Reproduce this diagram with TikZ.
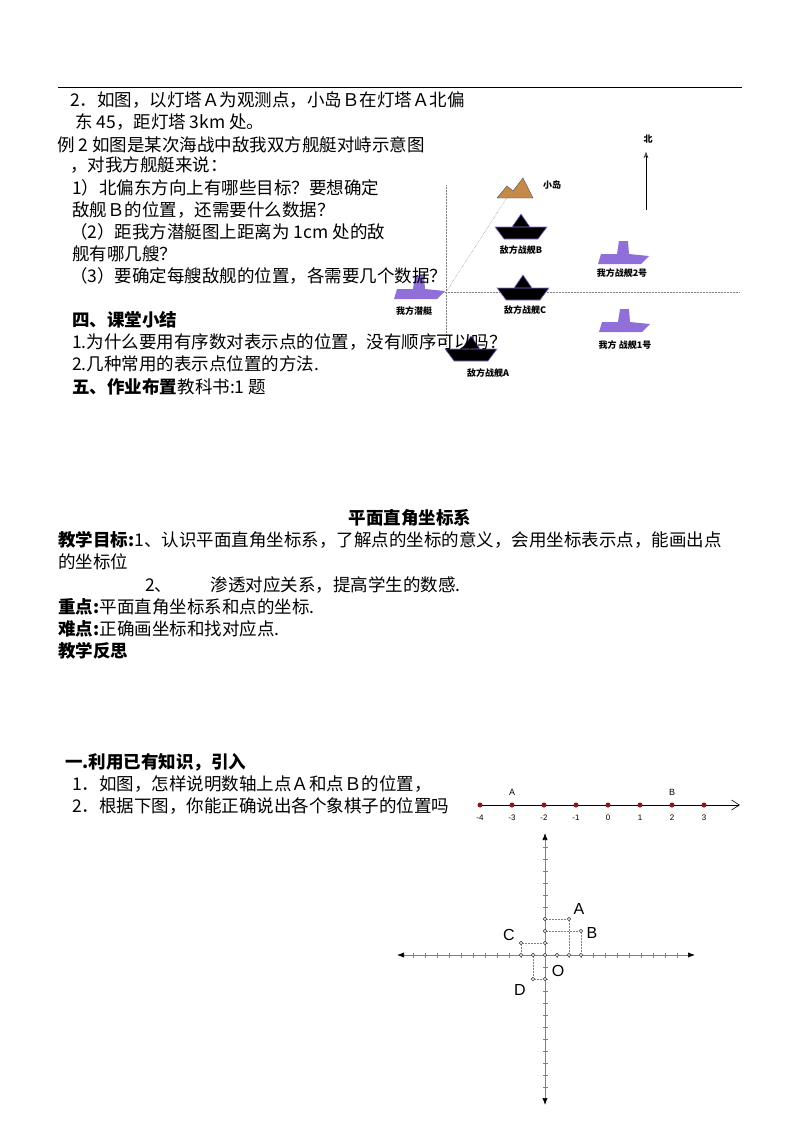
\documentclass[tikz,border=0pt]{standalone}
\usepackage{fontspec}
\setmainfont{Noto Sans CJK SC}
\newfontfamily\latn{Liberation Sans}
\usetikzlibrary{arrows.meta, positioning}
\definecolor{shipviolet}{HTML}{9070D8}
\definecolor{isle}{HTML}{C48A4A}
\definecolor{dotred}{HTML}{8B1A1A}
\tikzset{
  txt/.style={anchor=west, inner sep=0pt, font=\fontsize{17.5}{20}\selectfont},
  bold/.style={txt, font=\fontsize{17.5}{20}\selectfont\bfseries},
  tag/.style={inner sep=1pt, font=\fontsize{9}{10}\selectfont\bfseries},
  foe/.pic={\fill[black, draw=shipviolet, line width=0.6pt] (-26,-2)--(26,-2)--(17,10)--(-17,10)--cycle
      (-9,-2)--(0,-15)--(9,-2)--cycle;},
  own/.pic={\fill[shipviolet] (-25,10)--(-22,0)--(-6,0)--(-4,-13)--(5,-13)--(6,0)--(26,2)--(18,10)--cycle;},
  mount/.pic={\fill[isle, draw=black!70, line width=0.4pt] (-18,10)--(-8,-2)--(-2,3)--(8,-10)--(18,10)--cycle;},
  nlpt/.style={circle, fill=dotred, inner sep=0pt, minimum size=5pt},
  ring/.style={circle, draw=black!80, line width=0.5pt, inner sep=0pt, minimum size=3.5pt, fill=white},
  guide/.style={densely dotted, gray, line width=0.5pt}
}
\begin{document}
\begin{tikzpicture}[x=1pt, y=-1pt]
  \useasboundingbox (0,0) rectangle (800,1132);
  \draw[line width=0.8pt] (58,87) -- (742,87);

  % Ship diagram
  \draw[guide] (446,185) -- (446,346);
  \draw[guide] (440,292) -- (740,292);
  \coordinate (sub) at (446,292);
  \pic at (419,289) {own};
  \pic at (515,188) {mount};
  \coordinate (isl) at (508,196);
  \draw[guide] (sub) -- (isl);
  \pic at (521,229) {foe};
  \pic at (523,290) {foe};
  \pic at (471,351) {foe};
  \pic at (623,254) {own};
  \pic at (624,322) {own};
  \node[tag] (isltag) at (552,185) {小岛};
  \node[tag] (subtag) at (414,311) {我方潜艇};
  \node[tag] (btag) at (521,250) {敌方战舰B};
  \node[tag] (ctag) at (525,310) {敌方战舰C};
  \node[tag] (atag) at (488,373) {敌方战舰A};
  \node[tag] (m2tag) at (622,273) {我方战舰2号};
  \node[tag] (m1tag) at (625,345) {我方 战舰1号};
  \node[tag] (north) at (648,139) {北};
  \coordinate (nbot) at (646,210);
  \coordinate (ntop) at (646,152);
  \draw[-{Stealth[open,length=6pt]}, line width=0.5pt] (nbot) -- (ntop);

  % Text, upper part
  \node[txt] (l1) at (70,100) {2．如图，以灯塔Ａ为观测点，小岛Ｂ在灯塔Ａ北偏};
  \node[txt] (l2) at (75,122) {东 45，距灯塔 3km 处。};
  \node[txt] (l3) at (57,145) {例 2 如图是某次海战中敌我双方舰艇对峙示意图};
  \node[txt] (l4) at (70,165) {，对我方舰艇来说：};
  \node[txt] (l5) at (72,188) {1）北偏东方向上有哪些目标？要想确定};
  \node[txt] (l6) at (72,210) {敌舰Ｂ的位置，还需要什么数据？};
  \node[txt] (l7) at (70,232) {（2）距我方潜艇图上距离为 1cm 处的敌};
  \node[txt] (l8) at (72,254) {舰有哪几艘？};
  \node[txt] (l9) at (70,276) {（3）要确定每艘敌舰的位置，各需要几个数据？};
  \node[bold] (sum) at (72,320) {四、课堂小结};
  \node[txt] (s1) at (72,342) {1.为什么要用有序数对表示点的位置，没有顺序可以吗？};
  \node[txt] (s2) at (72,364) {2.几种常用的表示点位置的方法.};
  \node[bold] (hw) at (72,387) {五、作业布置};
  \node[txt, right=0pt of hw] (hw2) {教科书:1 题};

  % Text, lesson plan
  \node[bold, anchor=center] (title) at (410,518) {平面直角坐标系};
  \node[bold] (goal) at (58,540) {教学目标:};
  \node[txt, right=0pt of goal] (goal1) {1、认识平面直角坐标系，了解点的坐标的意义，会用坐标表示点，能画出点};
  \node[txt] (goal2) at (58,562) {的坐标位};
  \node[txt] (goal3) at (145,585) {2、\hspace{2.2em}渗透对应关系，提高学生的数感.};
  \node[bold] (key) at (58,607) {重点:};
  \node[txt, right=0pt of key] (key2) {平面直角坐标系和点的坐标.};
  \node[bold] (hard) at (58,629) {难点:};
  \node[txt, right=0pt of hard] (hard2) {正确画坐标和找对应点.};
  \node[bold] (refl) at (58,651) {教学反思};
  \node[bold] (intro) at (65,762) {一.利用已有知识，引入};
  \node[txt] (q1) at (72,784) {1．如图，怎样说明数轴上点Ａ和点Ｂ的位置，};
  \node[txt] (q2) at (72,806) {2．根据下图，你能正确说出各个象棋子的位置吗};

  % Number line
  \fill[white] (472,790) rectangle (750,825);
  \coordinate (nlend) at (740,805);
  \draw[line width=0.6pt] (480,805) -- (738,805);
  \draw[-{Straight Barb[length=8pt,width=10pt]}, line width=0.6pt] (720,805) -- (nlend);
  \foreach \k in {-4,...,3} {
    \node[nlpt] (n\k) at ({608+32*\k},805) {};
    \node[font=\latn\fontsize{8}{9}\selectfont, below=4pt of n\k] {\k};
  }
  \node[font=\latn\fontsize{9}{10}\selectfont, above=3pt of n-3] {A};
  \node[font=\latn\fontsize{9}{10}\selectfont, above=3pt of n2] {B};

  % Coordinate plane
  \begin{scope}[shift={(545,955)}]
    \coordinate (xl) at (-148,0); \coordinate (xr) at (150,0);
    \coordinate (yt) at (0,-122); \coordinate (yb) at (0,150);
    \draw[gray, line width=0.7pt, {Latex[black,length=7pt]}-{Latex[black,length=7pt]}] (xl) -- (xr);
    \draw[gray, line width=0.7pt, {Latex[black,length=7pt]}-{Latex[black,length=7pt]}] (yt) -- (yb);
    \foreach \i in {-11,...,11} \draw[gray] (12*\i,-2.5) -- (12*\i,2.5);
    \foreach \j in {-9,...,11} \draw[gray] (-2.5,12*\j) -- (2.5,12*\j);
    \node[ring] (pA) at (24,-36) {};
    \node[ring] (pB) at (36,-24) {};
    \node[ring] (pC) at (-24,-12) {};
    \node[ring] (pD) at (-12,24) {};
    \foreach \p/\a/\b in {ya/0/-36, yb2/0/-24, yc/0/-12, yd/0/24, xa/24/0, xb/36/0, xc/-24/0, xd/-12/0, o/0/0, xe/12/0}
      \node[ring] (\p) at (\a,\b) {};
    \draw[guide] (ya) -- (pA) -- (xa);
    \draw[guide] (yb2) -- (pB) -- (xb);
    \draw[guide] (yc) -- (pC) -- (xc);
    \draw[guide] (yd) -- (pD) -- (xd);
    \node[font=\latn\fontsize{16}{18}\selectfont] at (34,-46) {A};
    \node[font=\latn\fontsize{16}{18}\selectfont] at (47,-22) {B};
    \node[font=\latn\fontsize{16}{18}\selectfont] at (-36,-20) {C};
    \node[font=\latn\fontsize{16}{18}\selectfont] at (-25,35) {D};
    \node[font=\latn\fontsize{16}{18}\selectfont] at (13,16) {O};
  \end{scope}
\end{tikzpicture}
\end{document}
